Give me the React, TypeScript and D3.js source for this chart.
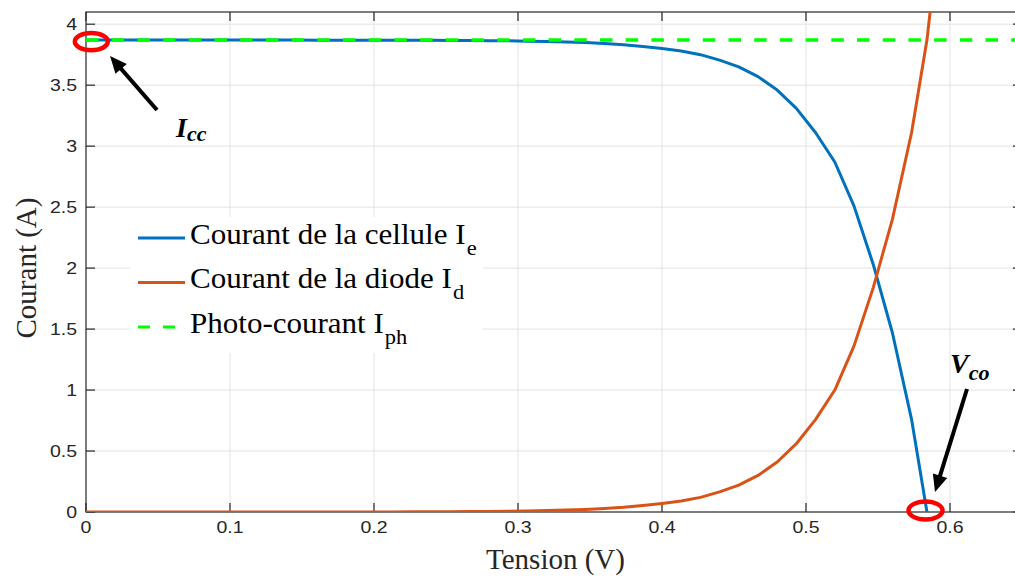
import React from "react";
import * as d3 from "d3";

// Tension (V) sample points of the simulated I-V sweep
const tension = [
  0, 0.0133, 0.0267, 0.04, 0.0533, 0.0667, 0.08, 0.0933, 0.1067, 0.12,
  0.1333, 0.1467, 0.16, 0.1733, 0.1867, 0.2, 0.2133, 0.2267, 0.24, 0.2533,
  0.2667, 0.28, 0.2933, 0.3067, 0.32, 0.3333, 0.3467, 0.36, 0.3733, 0.3867,
  0.4, 0.4133, 0.4267, 0.44, 0.4533, 0.4667, 0.48, 0.4933, 0.5067, 0.52,
  0.5333, 0.5467, 0.56, 0.5733, 0.584,
];

// Courant de la cellule Ie (A)
const cellCurrent = [
  3.87, 3.87, 3.87, 3.87, 3.87, 3.87, 3.87, 3.87, 3.87, 3.87,
  3.87, 3.87, 3.869, 3.869, 3.869, 3.869, 3.869, 3.868, 3.868, 3.867,
  3.866, 3.865, 3.864, 3.861, 3.858, 3.854, 3.849, 3.841, 3.831, 3.817,
  3.8, 3.78, 3.75, 3.705, 3.65, 3.57, 3.46, 3.31, 3.11, 2.87,
  2.51, 2.03, 1.47, 0.76, 0,
];

// Diode sweep runs one step past the open-circuit point
const diodeTension = [...tension, 0.5947];

// Courant de la diode Id (A)
const diodeCurrent = [
  0, 0, 0, 0, 0, 0, 0, 0, 0, 0,
  0, 0, 0.001, 0.001, 0.001, 0.001, 0.001, 0.002, 0.002, 0.003,
  0.004, 0.005, 0.006, 0.009, 0.012, 0.016, 0.021, 0.029, 0.039, 0.053,
  0.07, 0.09, 0.12, 0.165, 0.22, 0.3, 0.41, 0.56, 0.76, 1.0,
  1.36, 1.84, 2.4, 3.11, 3.87, 5.0,
];

// Photo-courant Iph (A)
const photoCurrent = 3.87;
// Short-circuit current and open-circuit voltage
const icc = 3.87;
const vco = 0.583;

const xTicks = [0, 0.1, 0.2, 0.3, 0.4, 0.5, 0.6];
const xTickLabels = ["0", "0.1", "0.2", "0.3", "0.4", "0.5", "0.6"];
const yTicks = [0, 0.5, 1, 1.5, 2, 2.5, 3, 3.5, 4];
const yTickLabels = ["0", "0.5", "1", "1.5", "2", "2.5", "3", "3.5", "4"];

const legendLabels = ["Courant de la cellule I", "Courant de la diode I", "Photo-courant I"];
const legendSubs = ["e", "d", "ph"];

const BLUE = "#0072BD";
const ORANGE = "#D95319";
const GREEN = "#00FF00";
const AXIS = "#262626";
const GRID = "#e3e3e3";
const SERIF = "'Liberation Serif', 'Times New Roman', serif";
const SANS = "'Liberation Sans', Arial, sans-serif";

const legendColors = [BLUE, ORANGE, GREEN];
const legendDashed = [false, false, true];

const W = 1015;
const H = 579;
const left = 86;
const right = 1022;
const top = 12;
const bottom = 512;

function Arrow({ x1, y1, x2, y2 }: { x1: number; y1: number; x2: number; y2: number }) {
  const dx = x2 - x1;
  const dy = y2 - y1;
  const len = Math.hypot(dx, dy);
  const ux = dx / len;
  const uy = dy / len;
  const headLen = 17;
  const headHalf = 7.5;
  const bx = x2 - ux * headLen;
  const by = y2 - uy * headLen;
  const pts = [
    [x2, y2],
    [bx - uy * headHalf, by + ux * headHalf],
    [bx + uy * headHalf, by - ux * headHalf],
  ];
  return (
    <g>
      <line x1={x1} y1={y1} x2={bx + ux * 2} y2={by + uy * 2} stroke="#000" strokeWidth={4} />
      <polygon points={pts.map((p) => p.join(",")).join(" ")} fill="#000" />
    </g>
  );
}

export default function App() {
  const x = d3.scaleLinear().domain([0, 0.65]).range([left, right]);
  const y = d3.scaleLinear().domain([0, 4.1]).range([bottom, top]);

  const cellLine = d3
    .line<number>()
    .x((_, i) => x(tension[i]))
    .y((d) => y(d))(cellCurrent) as string;
  const diodeLine = d3
    .line<number>()
    .x((_, i) => x(diodeTension[i]))
    .y((d) => y(d))(diodeCurrent) as string;

  const tickLen = 9;
  const stretch = "scale(1.22,1)";

  return (
    <svg
      width={W}
      height={H}
      style={{ position: "absolute", left: 0, top: 0, background: "#fff" }}
    >
      <defs>
        <clipPath id="plot-area">
          <rect x={left} y={top} width={right - left} height={bottom - top} />
        </clipPath>
      </defs>

      {/* grid */}
      {xTicks.slice(1).map((t) => (
        <line key={"gx" + t} x1={x(t)} x2={x(t)} y1={top} y2={bottom} stroke={GRID} strokeWidth={1} />
      ))}
      {yTicks.slice(1).map((t) => (
        <line key={"gy" + t} x1={left} x2={right} y1={y(t)} y2={y(t)} stroke={GRID} strokeWidth={1} />
      ))}

      {/* axes box */}
      <rect x={left} y={top} width={right - left} height={bottom - top} fill="none" stroke={AXIS} strokeWidth={1.2} />

      {/* ticks */}
      {xTicks.map((t) => (
        <g key={"tx" + t}>
          <line x1={x(t)} x2={x(t)} y1={bottom} y2={bottom - tickLen} stroke={AXIS} strokeWidth={1.2} />
          <line x1={x(t)} x2={x(t)} y1={top} y2={top + tickLen} stroke={AXIS} strokeWidth={1.2} />
        </g>
      ))}
      {yTicks.map((t) => (
        <g key={"ty" + t}>
          <line x1={left} x2={left + tickLen} y1={y(t)} y2={y(t)} stroke={AXIS} strokeWidth={1.2} />
          <line x1={right} x2={right - tickLen} y1={y(t)} y2={y(t)} stroke={AXIS} strokeWidth={1.2} />
        </g>
      ))}

      {/* tick labels */}
      {xTicks.map((t, i) => (
        <text
          key={"lx" + t}
          transform={`translate(${x(t)},${bottom + 21}) ${stretch}`}
          textAnchor="middle"
          fontFamily={SANS}
          fontSize={16}
          fill={AXIS}
        >
          {xTickLabels[i]}
        </text>
      ))}
      {yTicks.map((t, i) => (
        <text
          key={"ly" + t}
          transform={`translate(${left - 9},${y(t) + 6}) ${stretch}`}
          textAnchor="end"
          fontFamily={SANS}
          fontSize={16}
          fill={AXIS}
        >
          {yTickLabels[i]}
        </text>
      ))}

      {/* axis titles */}
      <text x={(left + W) / 2 + 5} y={569} textAnchor="middle" fontFamily={SERIF} fontSize={29} fill={AXIS}>
        Tension (V)
      </text>
      <text
        transform={`translate(36,${(top + bottom) / 2 + 6}) rotate(-90)`}
        textAnchor="middle"
        fontFamily={SERIF}
        fontSize={29}
        fill={AXIS}
      >
        Courant (A)
      </text>

      {/* data */}
      <g clipPath="url(#plot-area)">
        <path d={cellLine} fill="none" stroke={BLUE} strokeWidth={3} strokeLinejoin="round" />
        <path d={diodeLine} fill="none" stroke={ORANGE} strokeWidth={3} strokeLinejoin="round" />
        <line
          x1={x(0)}
          x2={x(0.65)}
          y1={y(photoCurrent)}
          y2={y(photoCurrent)}
          stroke={GREEN}
          strokeWidth={3.5}
          strokeDasharray="12.5 13.2"
        />
      </g>

      {/* legend */}
      <g>
        <rect x={130} y={217} width={353} height={136} fill="#fff" />
        {legendLabels.map((label, i) => {
          const ly = 238 + i * 44.5;
          return (
            <g key={label}>
              <line
                x1={138}
                x2={185}
                y1={ly}
                y2={ly}
                stroke={legendColors[i]}
                strokeWidth={3}
                strokeDasharray={legendDashed[i] ? "12 13" : undefined}
              />
              <text
                transform={`translate(190,${ly + 5.5}) scale(1.07,1)`}
                fontFamily={SERIF}
                fontSize={29}
                fill="#000"
              >
                {label}
                <tspan fontSize={21} dy={11} dx={1}>
                  {legendSubs[i]}
                </tspan>
              </text>
            </g>
          );
        })}
      </g>

      {/* annotations */}
      <ellipse cx={x(0.0037)} cy={y(icc) + 1.5} rx={16.5} ry={8.6} fill="none" stroke="#ff0000" strokeWidth={4.5} />
      <ellipse cx={x(vco)} cy={y(0) - 1.5} rx={17} ry={9} fill="none" stroke="#ff0000" strokeWidth={4.5} />
      <Arrow x1={157} y1={110} x2={110} y2={56} />
      <Arrow x1={967} y1={389} x2={935} y2={492} />
      <text x={176} y={137} fontFamily={SERIF} fontStyle="italic" fontWeight="bold" fontSize={28} fill="#000">
        I<tspan fontSize={22} dy={4}>cc</tspan>
      </text>
      <text x={950} y={373} fontFamily={SERIF} fontStyle="italic" fontWeight="bold" fontSize={28} fill="#000">
        V<tspan fontSize={22} dy={7}>co</tspan>
      </text>
    </svg>
  );
}
